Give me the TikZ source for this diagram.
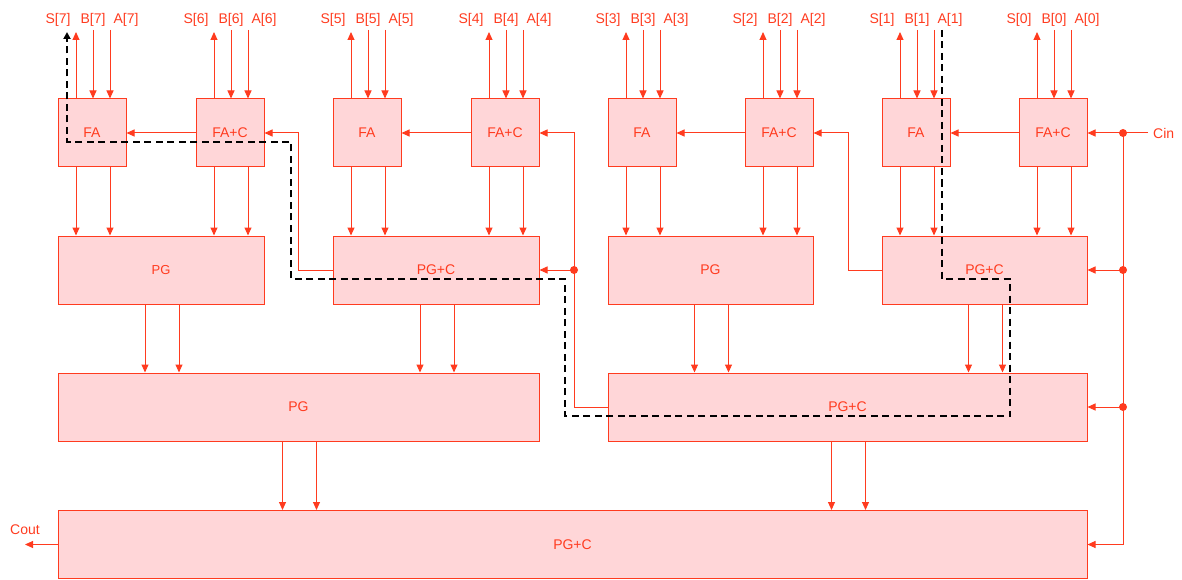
\documentclass[tikz,border=0pt]{standalone}
\usepackage{fontspec}
\setmainfont{Liberation Sans}
\usetikzlibrary{arrows.meta,calc}
\definecolor{lr}{RGB}{255,59,31}
\definecolor{pk}{RGB}{255,214,216}
\tikzset{
  box/.style={draw=lr, fill=pk, line width=1pt, text=lr, font=\fontsize{14}{16}\selectfont, inner sep=0pt},
  lbl/.style={text=lr, font=\fontsize{14}{16}\selectfont, inner sep=0pt},
  arr/.style={draw=lr, line width=1pt, -{Triangle[length=8pt,width=7pt]}},
  ln/.style={draw=lr, line width=1pt},
  dot/.style={circle, fill=lr, inner sep=0pt, minimum size=8pt},
  crit/.style={draw=black, line width=1.8pt, dash pattern=on 7pt off 4.5pt, -{Triangle[length=7pt,width=7pt]}}
}
\begin{document}
\begin{tikzpicture}[x=1pt,y=-1pt]
\useasboundingbox (0,0) rectangle (1182,580);

% row 2
\node[box, minimum width=206pt, minimum height=68pt, font=\fontsize{13}{15}\selectfont] (r2a) at (161,270) {PG};
\node[box, minimum width=206pt, minimum height=68pt] (r2b) at (436,270) {PG+C};
\node[box, minimum width=205pt, minimum height=68pt] (r2c) at (710.5,270) {PG};
\node[box, minimum width=205pt, minimum height=68pt] (r2d) at (984.5,270) {PG+C};
% row 3
\node[box, minimum width=481pt, minimum height=68pt] (r3a) at (298.5,407) {PG};
\node[box, minimum width=479pt, minimum height=68pt] (r3b) at (847.5,407) {PG+C};
% row 4
\node[box, minimum width=1029pt, minimum height=68pt] (r4) at (572.5,544.5) {PG+C};

% row 1 with inputs/outputs
\foreach \i/\L/\t/\p in {7/58/FA/r2a,6/196/FA+C/r2a,5/333/FA/r2b,4/471/FA+C/r2b,3/608/FA/r2c,2/745/FA+C/r2c,1/882/FA/r2d,0/1019/FA+C/r2d} {
  \node[box, minimum width=68pt, minimum height=68pt] (fa\i) at (\L+34,133) {\t};
  \node[lbl, anchor=base] (s\i) at (\L,24) {S[\i]};
  \node[lbl, anchor=base] (b\i) at (\L+35,24) {B[\i]};
  \node[lbl, anchor=base] (a\i) at (\L+68,24) {A[\i]};
  \coordinate (so\i) at (\L+18,32);
  \coordinate (bi\i) at (\L+35,30);
  \coordinate (ai\i) at (\L+52,30);
  \draw[arr] (so\i |- fa\i.north) -- (so\i);
  \draw[arr] (bi\i) -- (bi\i |- fa\i.north);
  \draw[arr] (ai\i) -- (ai\i |- fa\i.north);
  \draw[arr] ([xshift=-16pt]fa\i.south) -- ([xshift=-16pt]fa\i.south |- \p.north);
  \draw[arr] ([xshift=18pt]fa\i.south) -- ([xshift=18pt]fa\i.south |- \p.north);
}

% row 2 -> row 3
\foreach \a/\b in {r2a/r3a,r2b/r3a,r2c/r3b,r2d/r3b} {
  \draw[arr] ([xshift=-16pt]\a.south) -- ([xshift=-16pt]\a.south |- \b.north);
  \draw[arr] ([xshift=18pt]\a.south) -- ([xshift=18pt]\a.south |- \b.north);
}
% row 3 -> row 4
\foreach \a in {r3a,r3b} {
  \draw[arr] ([xshift=-16pt]\a.south) -- ([xshift=-16pt]\a.south |- r4.north);
  \draw[arr] ([xshift=18pt]\a.south) -- ([xshift=18pt]\a.south |- r4.north);
}

% ripple carries inside groups
\draw[arr] (fa0.west) -- (fa1.east);
\draw[arr] (fa2.west) -- (fa3.east);
\draw[arr] (fa4.west) -- (fa5.east);
\draw[arr] (fa6.west) -- (fa7.east);

% Cin
\node[lbl, anchor=base west] (cin) at (1153,139) {Cin};
\node[dot] (d0) at (1123,133) {};
\node[dot] (d1) at (1123,270) {};
\node[dot] (d2) at (1123,407) {};
\draw[arr] ([xshift=-5pt]cin.west |- fa0.east) -- (fa0.east);
\draw[arr] (d0.center) |- (r4.east);
\draw[arr] (d1.center) -- (r2d.east);
\draw[arr] (d2.center) -- (r3b.east);

% group carries
\coordinate (k2) at (848,133);
\draw[arr] (r2d.west) -| (k2) -- (fa2.east);
\coordinate (k4) at (574,133);
\node[dot] (d3) at (574,270) {};
\draw[arr] (r3b.west) -| (k4) -- (fa4.east);
\draw[arr] (d3.center) -- (r2b.east);
\coordinate (k6) at (298,133);
\draw[arr] (r2b.west) -| (k6) -- (fa6.east);

% Cout
\coordinate (co) at (25,544.5);
\draw[arr] (r4.west) -- (co);
\node[lbl, anchor=base] (cout) at (25,534) {Cout};

% critical path
\coordinate (p0) at (942,30);
\coordinate (p1) at (942,279);
\coordinate (p2) at (1010,279);
\coordinate (p3) at (1010,416);
\coordinate (p4) at (565,416);
\coordinate (p5) at (565,279);
\coordinate (p6) at (291,279);
\coordinate (p7) at (291,142);
\coordinate (p8) at (67,142);
\coordinate (p9) at (67,32);
\draw[crit] (p0) -- (p1) -- (p2) -- (p3) -- (p4) -- (p5) -- (p6) -- (p7) -- (p8) -- (p9);
\end{tikzpicture}
\end{document}
